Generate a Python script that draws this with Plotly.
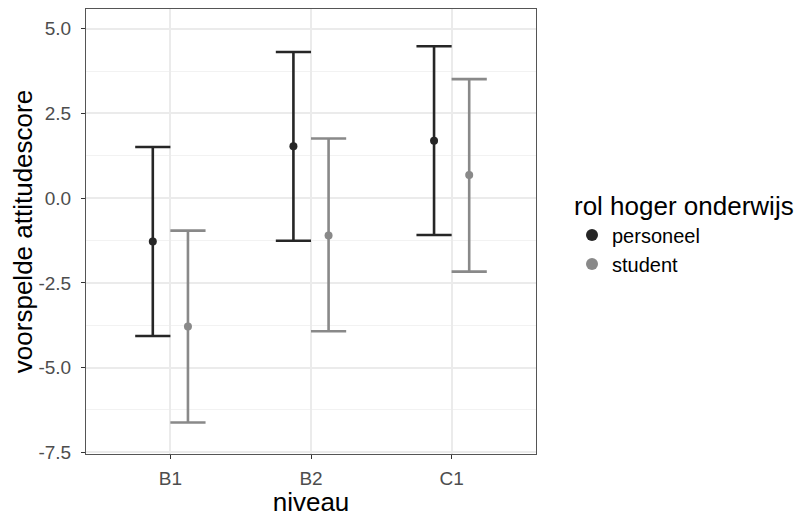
import plotly.graph_objects as go

niveaus = ["B1", "B2", "C1"]
groups = ["personeel", "student"]
estimate_personeel = [-1.28, 1.53, 1.69]
lower_personeel = [-4.07, -1.26, -1.09]
upper_personeel = [1.51, 4.31, 4.48]
estimate_student = [-3.79, -1.10, 0.68]
lower_student = [-6.62, -3.93, -2.17]
upper_student = [-0.96, 1.76, 3.51]
y_tick_values = [-7.5, -5.0, -2.5, 0.0, 2.5, 5.0]
y_tick_labels = ["-7.5", "-5.0", "-2.5", "0.0", "2.5", "5.0"]

colors = {"personeel": "#262626", "student": "#898989"}
dodge = 0.125
FONT = "Arial, Liberation Sans, Helvetica, sans-serif"

fig = go.Figure()
series = {
    "personeel": (estimate_personeel, lower_personeel, upper_personeel, -dodge),
    "student": (estimate_student, lower_student, upper_student, dodge),
}
for g in groups:
    est, lo, hi, off = series[g]
    xs = [i + 1 + off for i in range(len(niveaus))]
    fig.add_trace(go.Scatter(
        x=xs, y=est, mode="markers", name=g,
        marker=dict(color=colors[g], size=8),
        error_y=dict(type="data", symmetric=False,
                     array=[h - e for h, e in zip(hi, est)],
                     arrayminus=[e - l for e, l in zip(est, lo)],
                     color=colors[g], thickness=2.6, width=17.6),
    ))

# page body adds an ~8px offset; the figure is sized to fit the 802x517 window
fig.update_layout(
    width=794, height=509,
    margin=dict(l=78, r=266, t=1, b=63),
    plot_bgcolor="white", paper_bgcolor="white",
    font=dict(family=FONT, color="black"),
    legend=dict(
        title=dict(text="rol hoger onderwijs", font=dict(size=26, color="black")),
        font=dict(size=20, color="black"),
        x=1.08, xanchor="left", y=0.612, yanchor="top",
        tracegroupgap=0, itemsizing="constant",
    ),
    xaxis=dict(
        range=[0.4, 3.6], tickmode="array", automargin=False,
        tickvals=[i + 1 for i in range(len(niveaus))], ticktext=niveaus,
        showgrid=True, gridcolor="#ebebeb", gridwidth=1.5,
        zeroline=False, showline=True, linecolor="#555555", linewidth=1, mirror=True,
        ticks="outside", ticklen=4, tickcolor="#333333", ticklabelstandoff=3,
        tickfont=dict(size=19, color="#4d4d4d"),
        title=dict(text="niveau", font=dict(size=26, color="black"), standoff=5),
    ),
    yaxis=dict(
        range=[-7.55, 5.58], tickmode="array", automargin=False,
        tickvals=y_tick_values, ticktext=y_tick_labels,
        showgrid=True, gridcolor="#ebebeb", gridwidth=1.5,
        minor=dict(tickmode="linear", tick0=0, dtick=1.25, showgrid=True,
                   gridcolor="#f2f2f2", gridwidth=1, ticklen=0),
        zeroline=False, showline=True, linecolor="#555555", linewidth=1, mirror=True,
        ticks="outside", ticklen=4, tickcolor="#333333", ticklabelstandoff=6,
        tickfont=dict(size=19, color="#4d4d4d"),
        title=dict(text="voorspelde attitudescore", font=dict(size=26, color="black"), standoff=3),
    ),
)

fig.write_html("out.html")
